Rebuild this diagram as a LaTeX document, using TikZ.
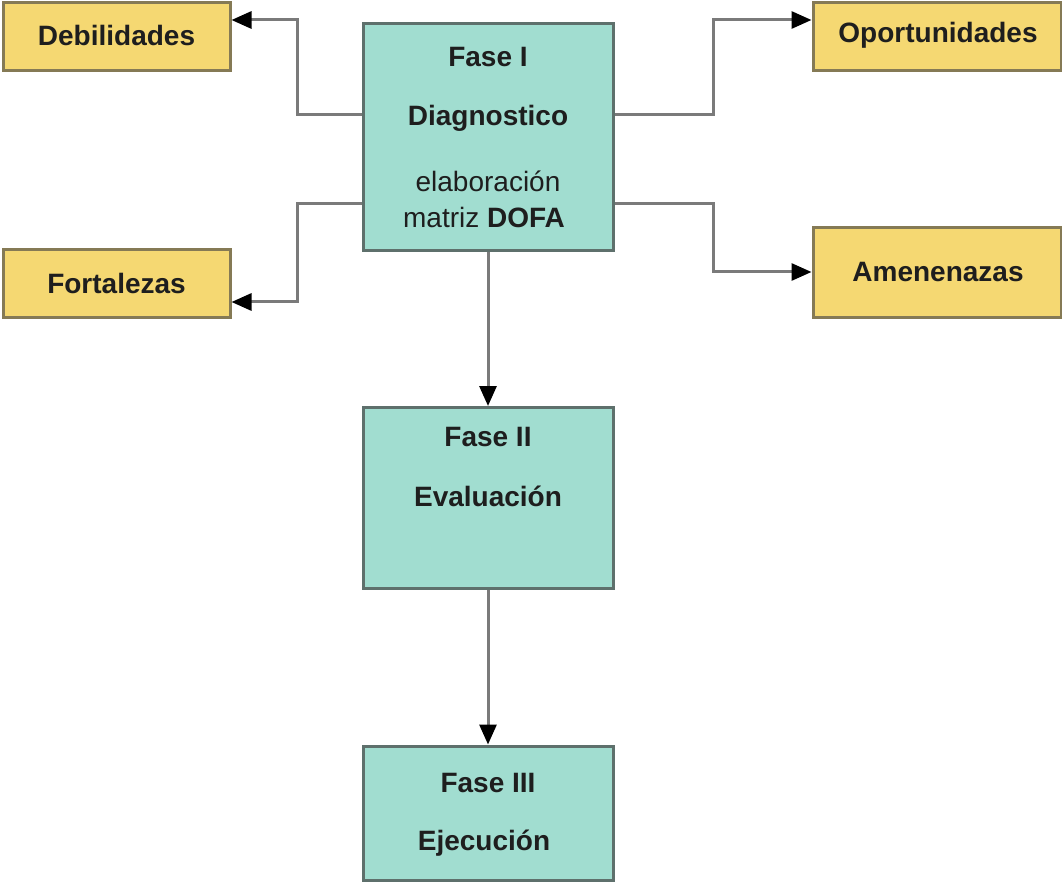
\documentclass[tikz,border=0pt]{standalone}
\usepackage{fontspec}
\setmainfont{Liberation Sans}
\usetikzlibrary{arrows.meta,calc}
\definecolor{tealfill}{HTML}{A1DDD0}
\definecolor{tealdraw}{HTML}{5E706C}
\definecolor{yelfill}{HTML}{F5D872}
\definecolor{yeldraw}{HTML}{857A55}
\definecolor{linegrey}{HTML}{7A7A7A}
\definecolor{txt}{HTML}{1E1E1E}
\begin{document}
\begin{tikzpicture}[x=1pt,y=-1pt,
  phase/.style={draw=tealdraw,fill=tealfill,line width=3pt,minimum width=250pt,inner sep=0pt},
  side/.style={draw=yeldraw,fill=yelfill,line width=3pt,inner sep=0pt,text=txt,font=\fontsize{28}{34}\selectfont\bfseries},
  lbl/.style={text=txt,font=\fontsize{28}{34}\selectfont\bfseries,inner sep=0pt},
  lblr/.style={text=txt,font=\fontsize{28}{34}\selectfont,inner sep=0pt,align=center},
  conn/.style={draw=linegrey,line width=3pt,-{Triangle[length=20pt,width=17pt,color=black]}},
  plain/.style={draw=linegrey,line width=3pt}]
\useasboundingbox (0,0) rectangle (1062,882);
% phase boxes
\node[phase,minimum height=227pt] (f1) at (488,137.5) {};
\node[phase,minimum height=181pt] (f2) at (488,498) {};
\node[phase,minimum height=134pt] (f3) at (488,813) {};
% side boxes
\node[side,minimum width=227pt,minimum height=68pt] (deb) at (116.5,37) {};
\node[side,minimum width=227pt,minimum height=68pt] (fort) at (116.5,284) {};
\node[side,minimum width=248pt,minimum height=68pt] (opo) at (937,37) {};
\node[side,minimum width=248pt,minimum height=90pt] (ame) at (937,273) {};
% texts
\node[lbl] (tdeb) at (116.5,35) {Debilidades};
\node[lbl] (tfort) at (116.5,283) {Fortalezas};
\node[lbl] (topo) at (938,35) {Oportunidades};
\node[lbl] (tame) at (938,272) {Amenenazas};
\node[lbl] (t1a) at (488,57) {Fase I};
\node[lbl] (t1b) at (488,118) {Diagnostico};
\node[lblr] (t1c) at (488,181) {elaboración};
\node[lblr] (t1d) at (484,217) {matriz \textbf{DOFA}};
\node[lbl] (t2a) at (488,437) {Fase II};
\node[lbl] (t2b) at (488,496) {Evaluación};
\node[lbl] (t3a) at (488,783) {Fase III};
\node[lbl] (t3b) at (484,843) {Ejecución};
% helper coordinates
\coordinate (yA) at (0,115);
\coordinate (yB) at (0,204);
\coordinate (yDeb) at (0,20);
\coordinate (yFort) at (0,302);
\coordinate (yOpo) at (0,20);
\coordinate (yAme) at (0,272);
\coordinate (xL) at (297,0);
\coordinate (xR) at (713,0);
% connectors
\draw[conn] (f1.west |- yA) -- (xL |- yA) -- (xL |- yDeb) -- (deb.east |- yDeb);
\draw[conn] (f1.west |- yB) -- (xL |- yB) -- (xL |- yFort) -- (fort.east |- yFort);
\draw[conn] (f1.east |- yA) -- (xR |- yA) -- (xR |- yOpo) -- (opo.west |- yOpo);
\draw[conn] (f1.east |- yB) -- (xR |- yB) -- (xR |- yAme) -- (ame.west |- yAme);
\draw[conn] (f1.south) -- (f2.north);
\draw[conn] (f2.south) -- (f3.north);
\end{tikzpicture}
\end{document}
